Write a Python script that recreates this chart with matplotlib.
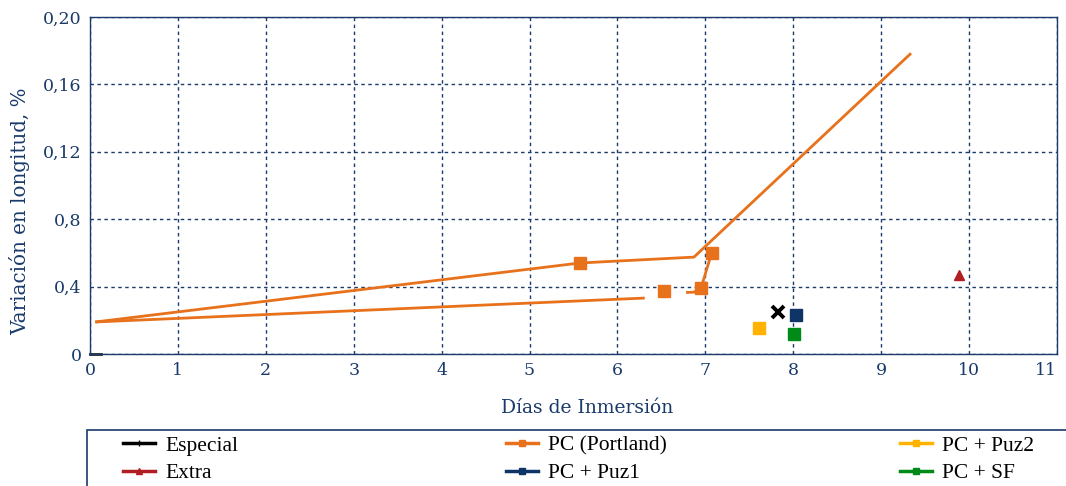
import matplotlib
matplotlib.use("Agg")
import matplotlib.pyplot as plt
from matplotlib.lines import Line2D
from matplotlib.patches import Rectangle

# Data
pc_line_a_x = [0.06, 5.57, 6.87, 9.34]
pc_line_a_y = [0.019, 0.054, 0.0575, 0.1785]
pc_line_b_x = [0.06, 6.31]
pc_line_b_y = [0.019, 0.0332]
pc_line_c_x = [6.78, 6.87, 6.95, 7.07]
pc_line_c_y = [0.0365, 0.0367, 0.039, 0.0597]
pc_mark_x = [5.57, 6.53, 6.95, 7.07]
pc_mark_y = [0.054, 0.0374, 0.039, 0.0597]
especial_x = [7.83]; especial_y = [0.0249]
puz1_x = [8.03]; puz1_y = [0.0231]
puz2_x = [7.61]; puz2_y = [0.0154]
sf_x = [8.01]; sf_y = [0.0119]
extra_x = [9.89]; extra_y = [0.0468]
especial_base_x = [0.0, 0.13]; especial_base_y = [0.0, 0.0]

y_ticks = [0, 0.04, 0.08, 0.12, 0.16, 0.20]
y_labels = ["0", "0,4", "0,8", "0,12", "0,16", "0,20"]
x_ticks = list(range(0, 12))

navy = "#1a3a6b"
orange = "#E8711C"
c_puz1 = "#0f3468"
c_puz2 = "#FFB300"
c_sf = "#008A17"
c_extra = "#B01E23"

W, H = 1066, 486
fig = plt.figure(figsize=(10.66, 4.86), dpi=100)
ax = fig.add_axes([90/W, 1-354/H, (1057-90)/W, (354-17)/H])

ax.plot(pc_line_a_x, pc_line_a_y, color=orange, lw=2.0, solid_capstyle='butt')
ax.plot(pc_line_b_x, pc_line_b_y, color=orange, lw=2.0, solid_capstyle='butt')
ax.plot(pc_line_c_x, pc_line_c_y, color=orange, lw=2.0, solid_capstyle='butt')
ax.plot(pc_mark_x, pc_mark_y, ls='none', marker='s', ms=8.5, color=orange)
ax.plot(especial_base_x, especial_base_y, color='#222222', lw=2.0, clip_on=False)
ax.plot(especial_x, especial_y, ls='none', marker='x', ms=8, mew=2.8, color='black')
ax.plot(puz1_x, puz1_y, ls='none', marker='s', ms=8.5, color=c_puz1)
ax.plot(puz2_x, puz2_y, ls='none', marker='s', ms=8.5, color=c_puz2)
ax.plot(sf_x, sf_y, ls='none', marker='s', ms=8.5, color=c_sf)
ax.plot(extra_x, extra_y, ls='none', marker='^', ms=7.5, color=c_extra)

ax.set_xlim(0, 11)
ax.set_ylim(0, 0.20)
ax.set_xticks(x_ticks)
ax.set_xticklabels([str(v) for v in x_ticks])
ax.set_yticks(y_ticks)
ax.set_yticklabels(y_labels)
ax.grid(True, color=navy, ls=(0, (2.5, 2.5)), lw=1.0)
for s in ax.spines.values():
    s.set_color(navy)
    s.set_linewidth(1.0)
ax.tick_params(axis='both', length=0, colors=navy, labelsize=12.5, pad=6)
for lab in ax.get_xticklabels() + ax.get_yticklabels():
    lab.set_family('DejaVu Serif')
    lab.set_color(navy)
ax.get_xticklabels()[-1].set_horizontalalignment('right')
ax.set_xlabel("Días de Inmersión", family='DejaVu Serif', fontsize=13.5, color=navy,
              labelpad=14, x=0.514)
ax.set_ylabel("Variación en longitud, %", family='DejaVu Serif', fontsize=14.3, color=navy,
              labelpad=9, y=0.424)

# legend frame
fig.patches.append(Rectangle((87/W, -0.05), (W-87)/W + 0.05, 1-430/H + 0.05,
                             transform=fig.transFigure, fill=False,
                             edgecolor=navy, lw=1.2))

handles = [
    Line2D([], [], color='black', lw=2.5, marker='+', ms=5, mew=1),
    Line2D([], [], color=c_extra, lw=2.5, marker='^', ms=4),
    Line2D([], [], color=orange, lw=2.5, marker='s', ms=4),
    Line2D([], [], color=c_puz1, lw=2.5, marker='s', ms=4),
    Line2D([], [], color=c_puz2, lw=2.5, marker='s', ms=4),
    Line2D([], [], color=c_sf, lw=2.5, marker='s', ms=4),
]
labels = ["Especial", "Extra", "PC (Portland)", "PC + Puz1", "PC + Puz2", "PC + SF"]
col_x = [123, 506, 900]
for i, cx in enumerate(col_x):
    lg = fig.legend(handles[2*i:2*i+2], labels[2*i:2*i+2], loc='center left',
                    bbox_to_anchor=(cx/W, 1-459.5/H), frameon=False,
                    prop={'family': 'Liberation Serif', 'size': 15.5},
                    handlelength=1.5, handletextpad=0.47, labelspacing=0.35,
                    borderpad=0, borderaxespad=0)

fig.savefig("out.png", dpi=100)
